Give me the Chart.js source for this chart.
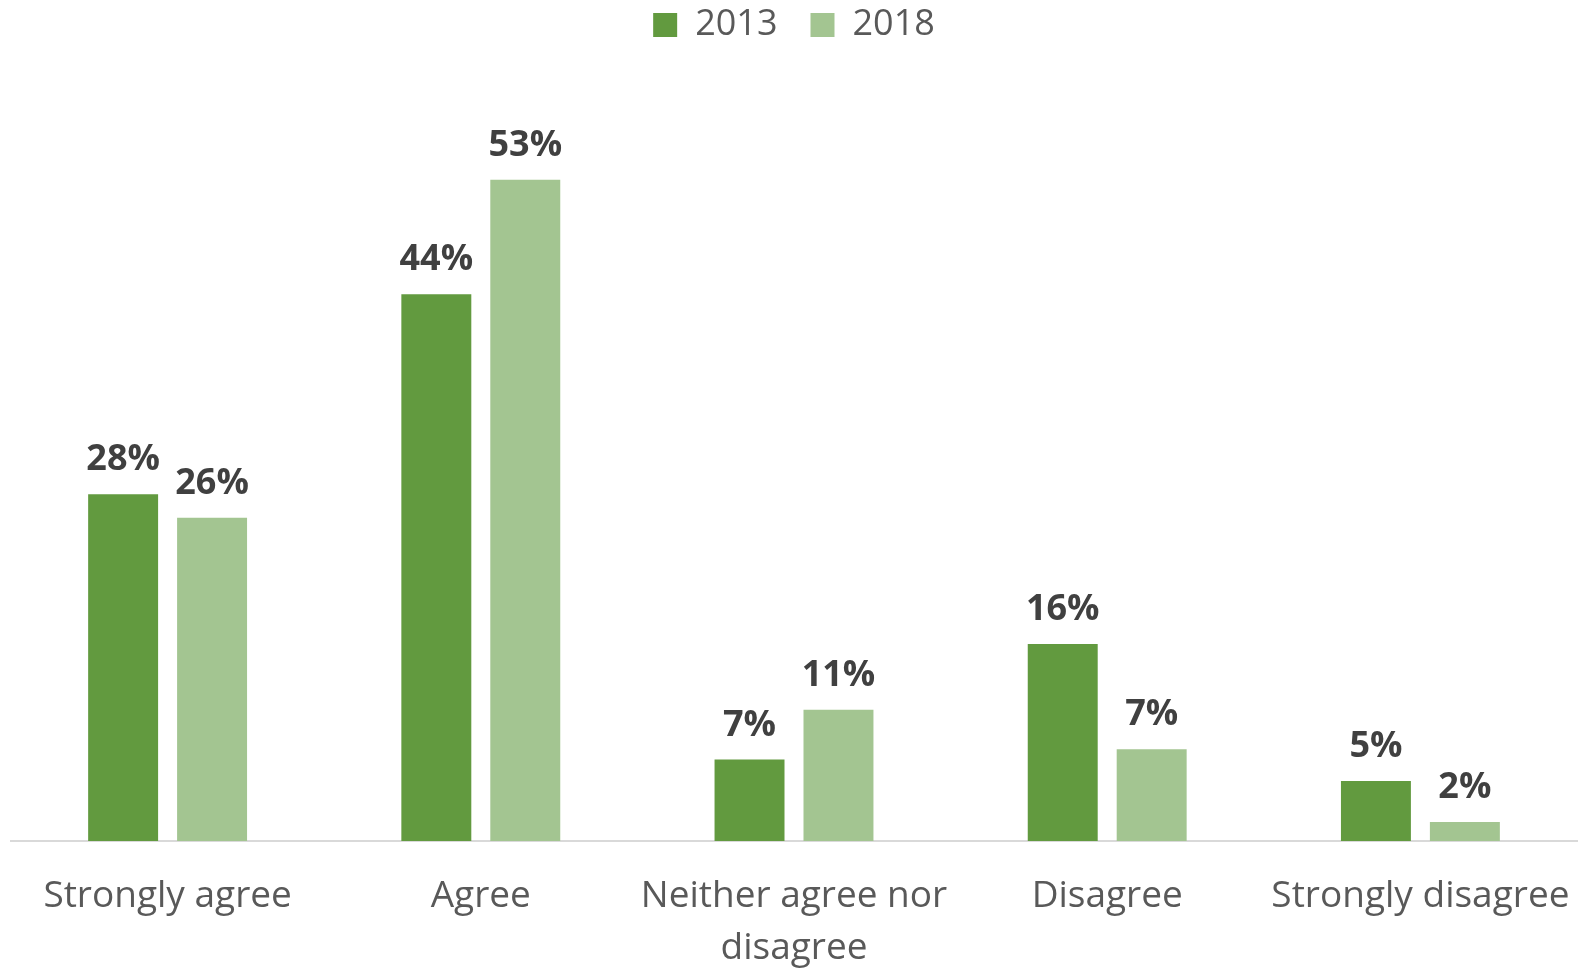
<!DOCTYPE html>
<html>
<head>
<meta charset="utf-8">
<script src="https://cdn.jsdelivr.net/npm/chart.js@4/dist/chart.umd.min.js"></script>
<style>
  html, body { margin: 0; padding: 0; background: #ffffff; }
  #wrap { width: 1581px; height: 969px; }
</style>
</head>
<body>
<div id="wrap"><canvas id="c" width="1581" height="969"></canvas></div>
<script>
const categories = [["Strongly agree"], ["Agree"], ["Neither agree nor", "disagree"], ["Disagree"], ["Strongly disagree"]];
const seriesNames = ["2013", "2018"];
const values2013 = [27.9, 44.0, 6.55, 15.85, 4.83];
const values2018 = [26.0, 53.2, 10.56, 7.39, 1.53];
const colors = ["#629a3f", "#a3c591"];

const dataLabels = {
  id: 'dataLabels',
  afterDatasetsDraw(chart) {
    const ctx = chart.ctx;
    ctx.save();
    ctx.font = 'bold 36px "Open Sans"';
    ctx.fillStyle = '#404040';
    ctx.textAlign = 'center';
    ctx.textBaseline = 'alphabetic';
    chart.data.datasets.forEach((ds, i) => {
      const meta = chart.getDatasetMeta(i);
      meta.data.forEach((bar, j) => {
        ctx.fillText(Math.round(ds.data[j]) + '%', bar.x, bar.y - 24);
      });
    });
    ctx.restore();
  }
};

new Chart(document.getElementById('c'), {
  type: 'bar',
  data: {
    labels: categories,
    datasets: [
      { label: seriesNames[0], data: values2013, backgroundColor: colors[0], borderWidth: 0,
        categoryPercentage: 0.568, barPercentage: 0.7865 },
      { label: seriesNames[1], data: values2018, backgroundColor: colors[1], borderWidth: 0,
        categoryPercentage: 0.568, barPercentage: 0.7865 }
    ]
  },
  options: {
    responsive: false,
    animation: false,
    devicePixelRatio: 1,
    layout: { padding: { left: 11, right: 4, top: -26, bottom: -8 } },
    plugins: {
      legend: {
        position: 'top',
        labels: {
          font: { family: '"Open Sans"', size: 36 },
          color: '#595959',
          boxWidth: 24,
          boxHeight: 24,
          padding: 33
        }
      },
      tooltip: { enabled: false }
    },
    scales: {
      x: {
        grid: { display: false, drawTicks: true, tickLength: 26 },
        border: { display: true, color: '#d9d9d9', width: 2 },
        ticks: {
          font: { family: '"Open Sans"', size: 37, lineHeight: 1.405 },
          color: '#595959',
          padding: 3,
          maxRotation: 0,
          autoSkip: false
        }
      },
      y: {
        display: false,
        min: 0,
        max: 63.4
      }
    }
  },
  plugins: [dataLabels]
});
</script>
</body>
</html>
